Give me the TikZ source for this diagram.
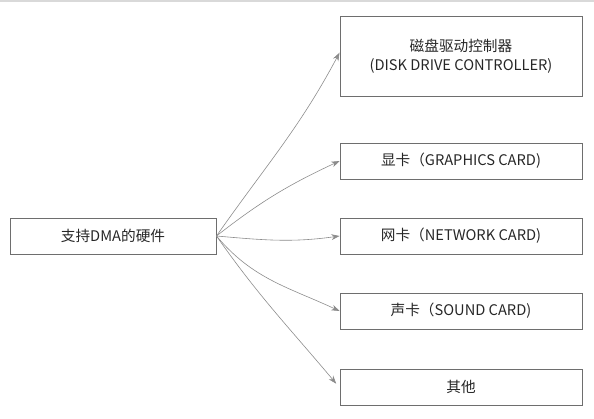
\documentclass[tikz,border=0pt]{standalone}
\usepackage{fontspec}
\setmainfont{Noto Sans CJK SC}
\usepackage{xcolor}
\usetikzlibrary{arrows.meta}
\definecolor{linegray}{HTML}{6E6E6E}
\tikzset{
  box/.style={draw=linegray, line width=0.8pt, minimum height=1.08cm, minimum width=7.26cm,
    align=center, font=\fontsize{12.5}{16}\selectfont, text=black!85},
  link/.style={draw=linegray!80, line width=0.5pt, -{Stealth[length=7pt,width=5pt]}}
}

\begin{document}
\begin{tikzpicture}[x=0.03cm, y=-0.03cm]
\useasboundingbox (0,0) rectangle (594,418);
\draw [black!15, line width=1.5pt] (0,1) -- (594,1);
\node [box, minimum width=6.18cm] (hw) at (113,236) {支持DMA的硬件};
\node [box, minimum height=2.4cm] (disk) at (461,56) {磁盘驱动控制器\\(DISK DRIVE CONTROLLER)};
\node [box] (gpu) at (461,161) {显卡（GRAPHICS CARD)};
\node [box] (net) at (461,236) {网卡（NETWORK CARD)};
\node [box] (snd) at (461,311) {声卡（SOUND CARD)};
\node [box] (other) at (461,387) {其他};
\draw [link] (hw.east) to [out=55, in=242] ([yshift=0.1cm]disk.west);
\draw [link] (hw.east) to [out=38, in=205] (gpu.west);
\draw [link] (hw.east) to [out=-5, in=188] (net.west);
\draw [link] (hw.east) to [out=-50, in=155] (snd.west);
\draw [link] (hw.east) to [out=-55, in=130] ([xshift=-0.1cm, yshift=0.1cm]other.west);
\end{tikzpicture}
\end{document}
